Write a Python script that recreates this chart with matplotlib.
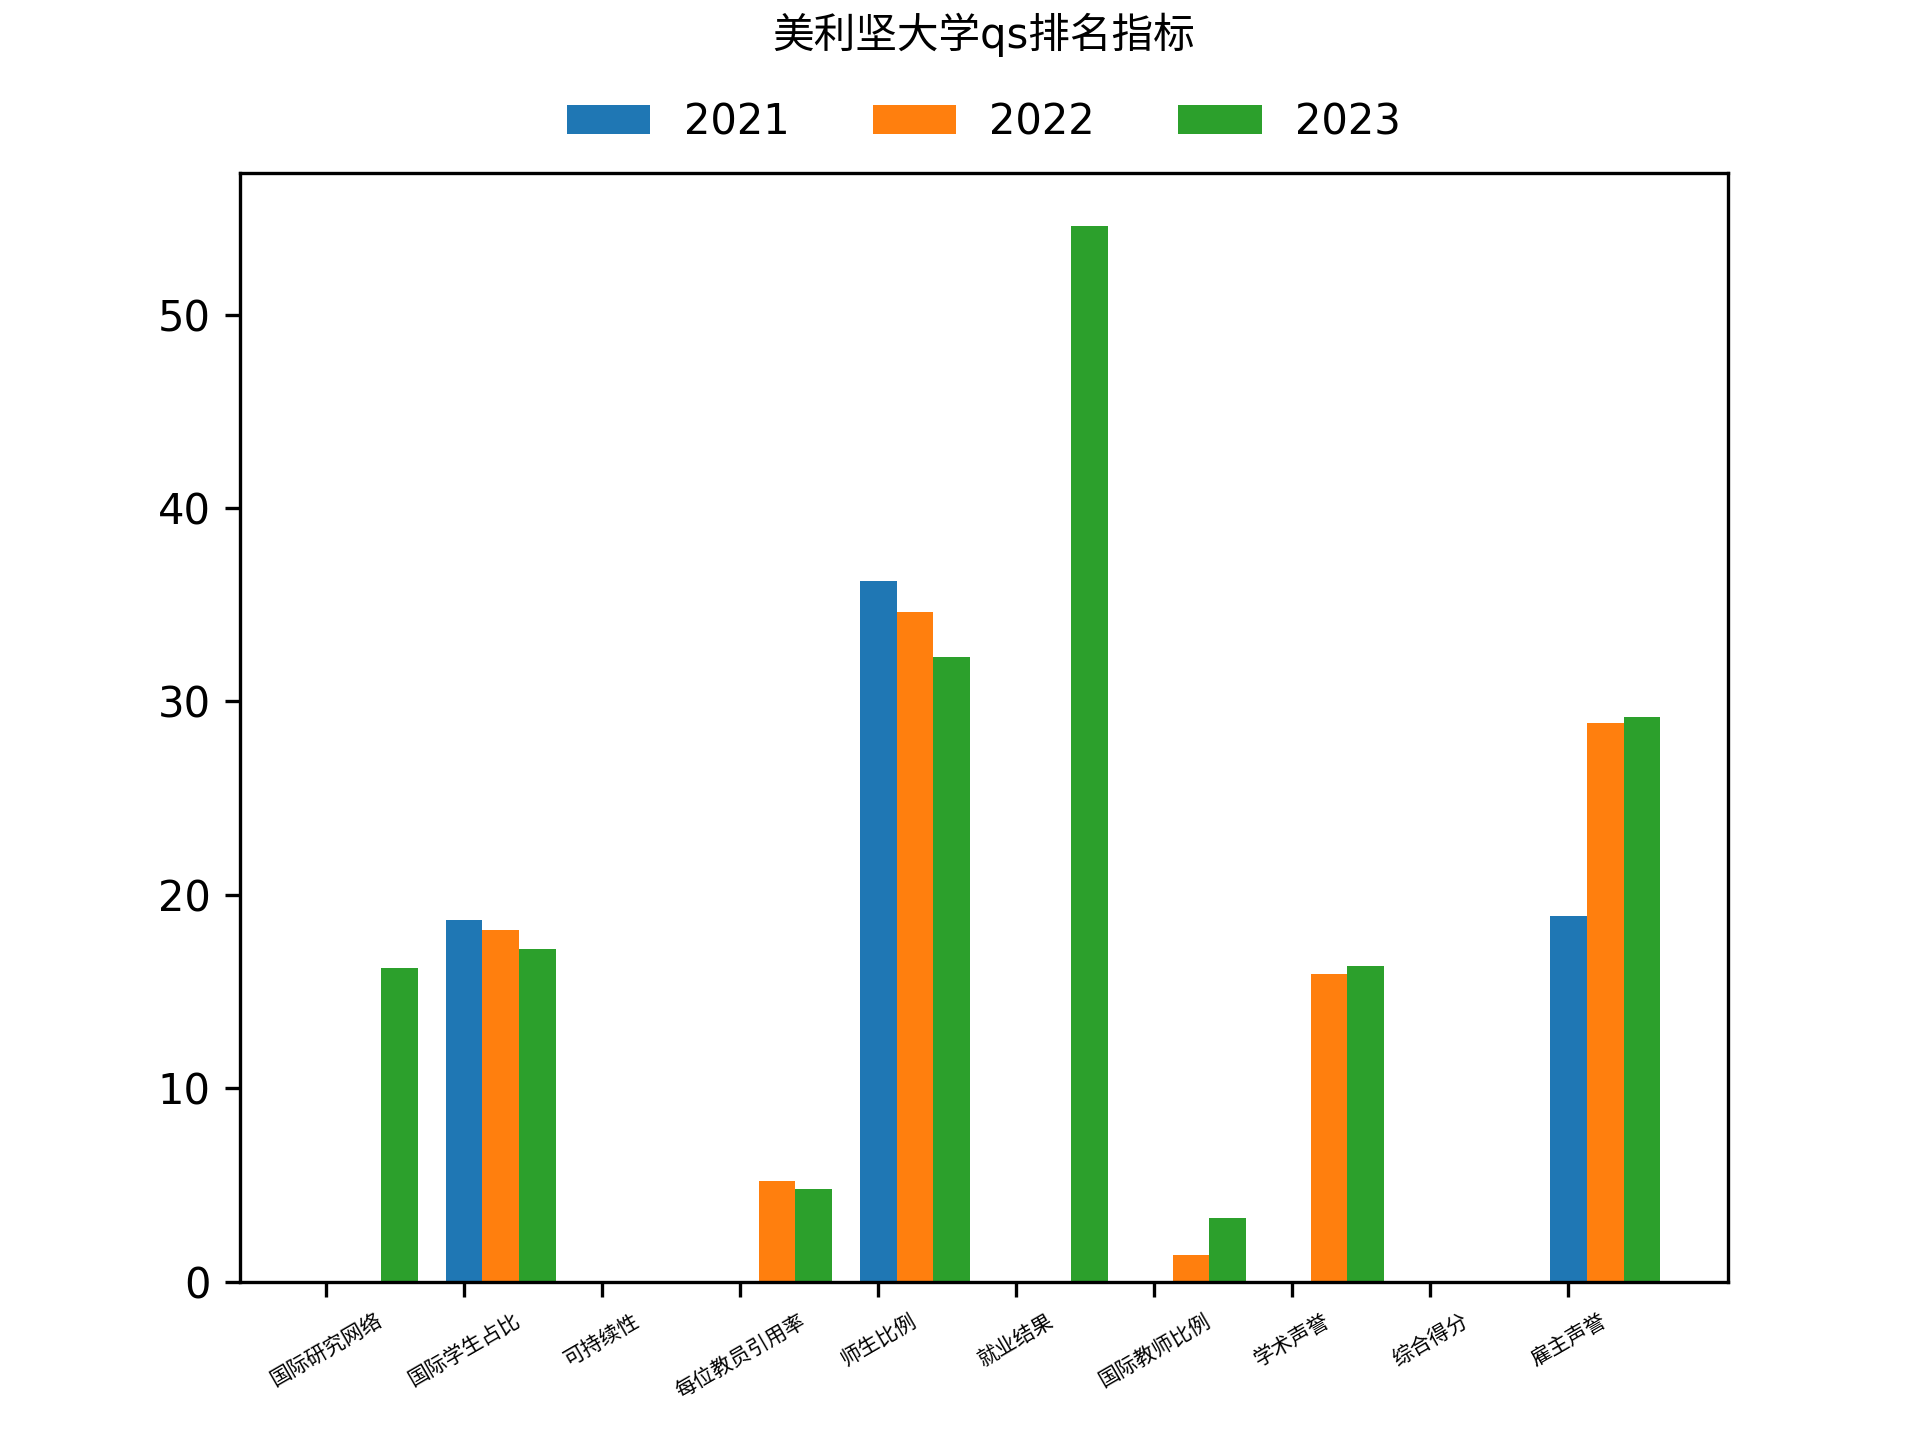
import numpy as np
import matplotlib.pyplot as plt

plt.rcParams['font.family'] = ['DejaVu Sans', 'Noto Sans CJK SC']

# Data
categories = ['国际研究网络', '国际学生占比', '可持续性', '每位教员引用率', '师生比例',
              '就业结果', '国际教师比例', '学术声誉', '综合得分', '雇主声誉']
years = ['2021', '2022', '2023']
v2021 = [0, 18.7, 0, 0, 36.2, 0, 0, 0, 0, 18.9]
v2022 = [0, 18.2, 0, 5.2, 34.6, 0, 1.4, 15.9, 0, 28.9]
v2023 = [16.2, 17.2, 0, 4.8, 32.3, 54.6, 3.3, 16.3, 0, 29.2]

x = np.arange(len(categories))
width = 0.8 / 3

fig, ax = plt.subplots(figsize=(6.4, 4.8), dpi=300)
for i, (vals, label) in enumerate(zip([v2021, v2022, v2023], years)):
    ax.bar(x + i * width, vals, width, label=label)

ax.set_xticks(x)
ax.set_xticklabels(categories, rotation=30, fontsize=5)
ax.set_title('美利坚大学qs排名指标', fontsize=10, pad=30)
ax.legend(loc='lower center', bbox_to_anchor=(0.5, 0.993), ncol=3, frameon=False)

plt.savefig('out.png', dpi=300)
